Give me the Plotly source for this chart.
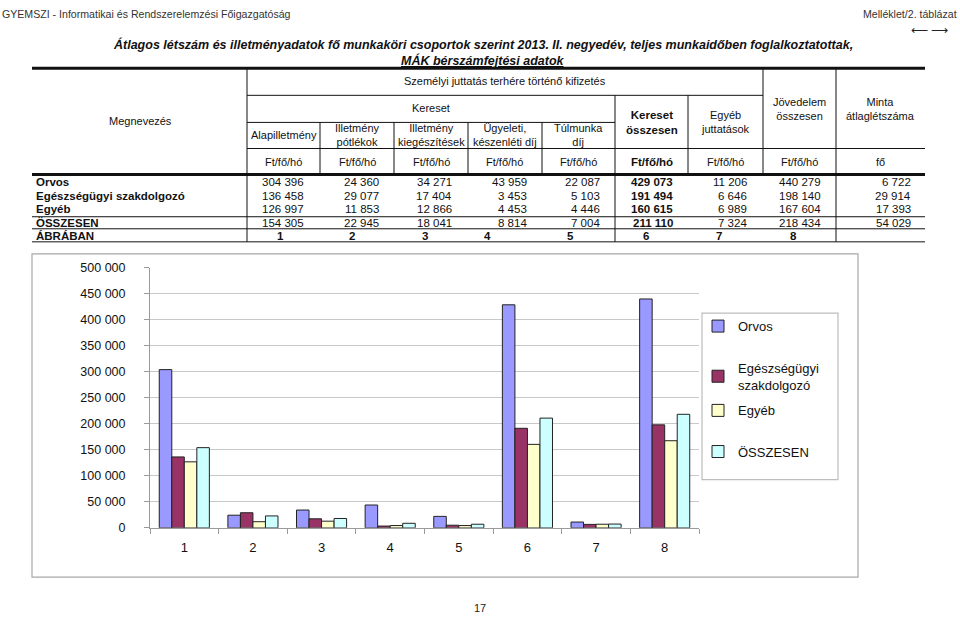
"""Átlagos létszám és illetményadatok - table + grouped bar chart (Plotly)."""

import plotly.graph_objects as go

W, H = 960, 622

# ---- data -------------------------------------------------------------
row_names = ["Orvos", "Egészségügyi szakdolgozó", "Egyéb", "ÖSSZESEN"]
legend_names = ["Orvos", "Egészségügyi<br>szakdolgozó", "Egyéb", "ÖSSZESEN"]

orvos = [304396, 24360, 34271, 43959, 22087, 429073, 11206, 440279, 6722]
szakdolgozo = [136458, 29077, 17404, 3453, 5103, 191494, 6646, 198140, 29914]
egyeb = [126997, 11853, 12866, 4453, 4446, 160615, 6989, 167604, 17393]
osszesen = [154305, 22945, 18041, 8814, 7004, 211110, 7324, 218434, 54029]

abraban = ["1", "2", "3", "4", "5", "6", "7", "8"]
col_headers = [
    "Alapilletmény",
    "Illetmény<br>pótlékok",
    "Illetmény<br>kiegészítések",
    "Ügyeleti,<br>készenléti díj",
    "Túlmunka<br>díj",
    "<b>Kereset<br>összesen</b>",
    "Egyéb<br>juttatások",
    "Jövedelem<br>összesen",
    "Minta<br>átlaglétszáma",
]
units = ["Ft/fő/hó"] * 5 + ["<b>Ft/fő/hó</b>"] + ["Ft/fő/hó"] * 2 + ["fő"]

y_ticks = [0, 50000, 100000, 150000, 200000, 250000, 300000, 350000, 400000, 450000, 500000]

_COLORS = ["#9999FF", "#993366", "#FFFFCC", "#CCFFFF"]
_FONT = "Liberation Sans, Arial, sans-serif"

# the captured page comes out slightly squeezed vertically; layout positions
# below are given in target pixels and corrected here
_SY, _OY = 0.974, 7


def px(x):
    return x / W


def py(y):
    return 1 - ((y - _OY) / _SY) / H


def fmt(v):
    return f"{v:,}".replace(",", " ")


fig = go.Figure()

series = [orvos, szakdolgozo, egyeb, osszesen]
legend_ids = ["legend", "legend2", "legend3", "legend4"]
for name, vals, col, lid in zip(legend_names, series, _COLORS, legend_ids):
    fig.add_trace(
        go.Bar(
            x=abraban,
            y=vals[:8],
            name=name,
            legend=lid,
            marker=dict(color=col, line=dict(color="#222222", width=1)),
        )
    )

shapes = []
annotations = []


def hline(y, x0, x1, w=1, color="#111111"):
    shapes.append(dict(type="line", xref="paper", yref="paper",
                       x0=px(x0), x1=px(x1), y0=py(y), y1=py(y),
                       line=dict(color=color, width=w)))


def vline(x, y0, y1, w=1, color="#111111"):
    shapes.append(dict(type="line", xref="paper", yref="paper",
                       x0=px(x), x1=px(x), y0=py(y0), y1=py(y1),
                       line=dict(color=color, width=w)))


def text(x, y, s, size=11, xanchor="center", color="#111111", fy=None, yanchor="middle"):
    yy = py(y) if fy is None else fy
    annotations.append(dict(xref="paper", yref="paper", x=px(x), y=yy, text=s,
                            showarrow=False, xanchor=xanchor, yanchor=yanchor,
                            align="center", borderpad=0,
                            font=dict(family=_FONT, size=size, color=color)))


# ---- page header ------------------------------------------------------
text(1, 0, "GYEMSZI - Informatikai és Rendszerelemzési Főigazgatóság", 10.6, "left", "#333",
     1.0, "top")
text(958, 0, "Melléklet/2. táblázat", 10.6, "right", "#333", 1.0, "top")
text(929, 30, "⟵ ⟶", 12, "center", "#222")
text(483, 44, "<b><i>Átlagos létszám és illetményadatok fő munkaköri csoportok szerint 2013. II. "
     "negyedév, teljes munkaidőben foglalkoztatottak,</i></b>", 12.5)
text(483, 60, "<b><i><u>MÁK bérszámfejtési adatok</u></i></b>", 12.5)

# ---- table grid -------------------------------------------------------
bounds = [247, 320, 394, 468, 542, 615, 688, 763, 836, 925]
hline(68, 32, 925, 3)
hline(95, 247, 763)
hline(122, 247, 615)
hline(148, 247, 925)
hline(174, 32, 925, 3)
hline(216, 32, 925)
hline(228, 32, 925)
hline(241, 32, 925)
vline(247, 68, 241)
for bx in bounds[1:5]:
    vline(bx, 122, 174)
vline(615, 95, 241)
vline(688, 95, 174)
vline(763, 68, 174)
vline(836, 68, 241)

text(140, 121, "Megnevezés")
text(505, 81, "Személyi juttatás terhére történő kifizetés")
text(431, 108, "Kereset")
header_y = [135, 135, 135, 135, 135, 122, 122, 109, 109]
for i, h in enumerate(col_headers):
    cx = (bounds[i] + bounds[i + 1]) / 2
    text(cx, header_y[i], h, 11 if i != 5 else 11.5)
    text(cx, 161, units[i], 11 if i != 5 else 11.5)

# ---- table body -------------------------------------------------------
right_edges = [305, 380, 453, 528, 601, 674, 748, 822, 912]
row_y = [181, 195, 208, 222]
for name, vals, ry in zip(row_names, series, row_y):
    text(35, ry, f"<b>{name}</b>", 11.5, "left")
    for j, v in enumerate(vals):
        s = fmt(v)
        if j == 5:
            s = f"<b>{s}</b>"
        text(right_edges[j], ry, s, 11.5, "right")

text(35, 235, "<b>ÁBRÁBAN</b>", 11.5, "left")
abr_x = [280, 352, 425, 487, 570, 646, 719, 793]
for ax_, lab in zip(abr_x, abraban):
    text(ax_, 235, f"<b>{lab}</b>", 11.5)

# ---- chart frame & legend box ----------------------------------------
shapes.append(dict(type="rect", xref="paper", yref="paper", x0=px(32), x1=px(858),
                   y0=py(575), y1=py(253), line=dict(color="#A8A8A8", width=1.2)))
shapes.append(dict(type="rect", xref="paper", yref="paper", x0=px(702), x1=px(838),
                   y0=py(478), y1=py(312), line=dict(color="#BDBDBD", width=1.2)))

text(480, 0, "17", 11, "center", "#222", 0.0, "bottom")


def legend_at(y_center):
    return dict(
        x=px(698), y=py(y_center), xanchor="left", yanchor="middle",
        font=dict(size=13, family=_FONT, color="#111111"),
        bgcolor="rgba(0,0,0,0)", borderwidth=0, itemclick=False,
    )


fig.update_layout(
    width=W,
    height=H,
    margin=dict(l=0, r=0, t=0, b=0),
    paper_bgcolor="white",
    plot_bgcolor="white",
    separators=", ",
    barmode="group",
    bargap=0.27,
    bargroupgap=0,
    font=dict(family=_FONT, color="#111111"),
    shapes=shapes,
    annotations=annotations,
    showlegend=True,
    legend=legend_at(325),
    legend2=legend_at(375),
    legend3=legend_at(409),
    legend4=legend_at(450),
    xaxis=dict(
        domain=[px(150), px(699)],
        type="category",
        showline=True, linecolor="#9A9A9A", linewidth=1,
        ticks="outside", tickson="boundaries", ticklen=5, tickcolor="#9A9A9A",
        ticklabelstandoff=8,
        tickfont=dict(size=13, family=_FONT),
        showgrid=False,
        fixedrange=True,
    ),
    yaxis=dict(
        domain=[py(526), py(267)],
        range=[0, 500000],
        tickvals=y_ticks,
        tickformat=",d",
        showline=True, linecolor="#9A9A9A", linewidth=1,
        ticks="outside", ticklen=5, tickcolor="#9A9A9A",
        ticklabelstandoff=16,
        tickfont=dict(size=12.5, family=_FONT),
        showgrid=True, gridcolor="#C8C8C8", gridwidth=1,
        zeroline=False,
        fixedrange=True,
    ),
)

_PAGE_CSS = (
    "var s=document.createElement('style');"
    "s.textContent='html,body{margin:0;padding:0;overflow:hidden;}';"
    "document.head.appendChild(s);"
)

fig.write_html(
    "out.html",
    config={"displayModeBar": False},
    post_script=_PAGE_CSS,
)
